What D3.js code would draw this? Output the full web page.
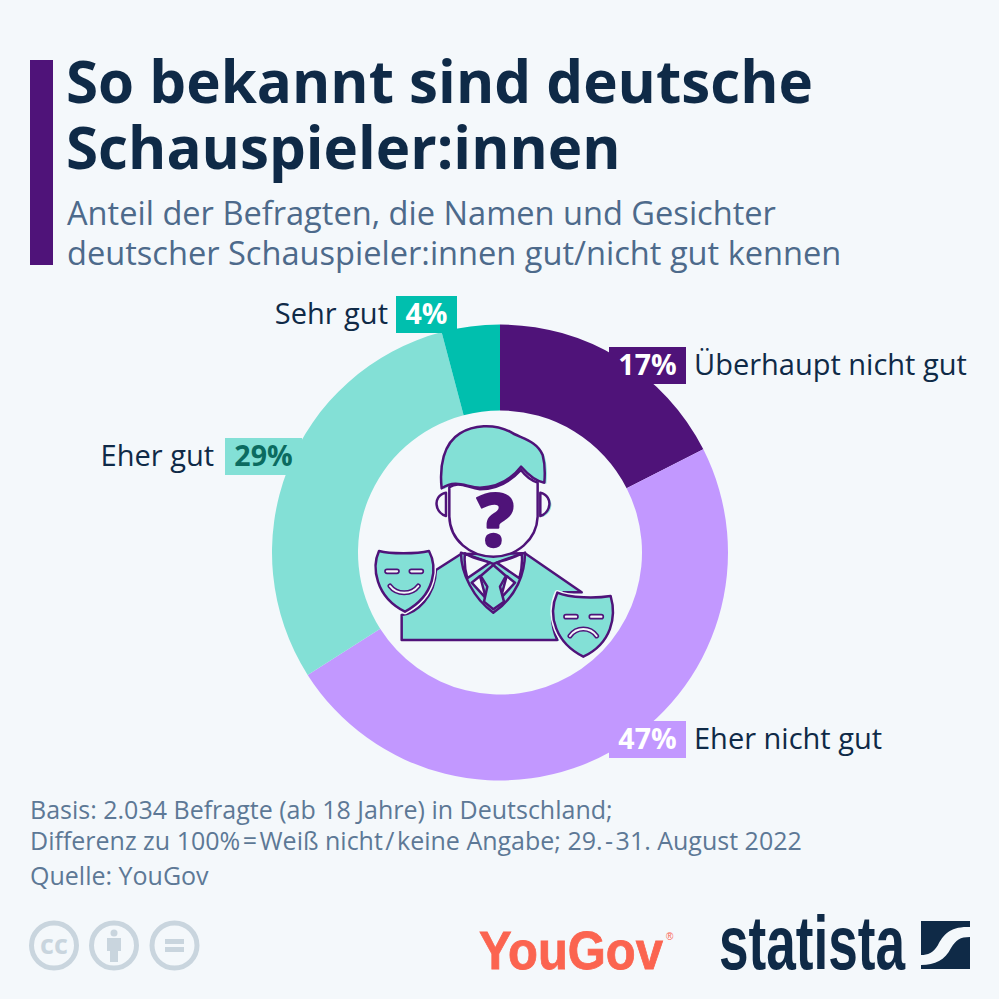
<!DOCTYPE html>
<html>
<head>
<meta charset="utf-8">
<script src="https://cdn.jsdelivr.net/npm/d3@7"></script>
<style>
  html, body { margin: 0; padding: 0; background: #f4f8fb; }
  svg { display: block; font-family: "Open Sans", sans-serif; }
</style>
</head>
<body>
<div id="chart"></div>
<script>
var svgWidth = 999;
var svgHeight = 999;

// Data
var categories = ["Überhaupt nicht gut", "Eher nicht gut", "Eher gut", "Sehr gut"];
var shares = [17, 47, 29, 4];
var sliceColors = ["#4f1379", "#c298ff", "#83e0d6", "#00bfae"];
var valueColors = ["#ffffff", "#ffffff", "#0b6b60", "#ffffff"];

var titleLines = ["So bekannt sind deutsche", "Schauspieler:innen"];
var subtitleLines = ["Anteil der Befragten, die Namen und Gesichter",
  "deutscher Schauspieler:innen gut/nicht gut kennen"];
var noteLines = ["Basis: 2.034 Befragte (ab 18 Jahre) in Deutschland;",
  "Differenz zu 100%\u200A=\u200AWeiß nicht\u200A/\u200Akeine Angabe; 29.\u200A-\u200A31. August 2022",
  "Quelle: YouGov"];

var svg = d3.select("#chart")
  .append("svg")
  .attr("width", svgWidth)
  .attr("height", svgHeight);

svg.append("rect")
  .attr("width", svgWidth)
  .attr("height", svgHeight)
  .attr("fill", "#f4f8fb");

// Header
svg.append("rect")
  .attr("x", 30).attr("y", 60)
  .attr("width", 23).attr("height", 205)
  .attr("fill", "#4f1379");

svg.selectAll(".title")
  .data(titleLines)
  .enter()
  .append("text")
  .attr("class", "title")
  .attr("x", 66)
  .attr("y", (d, i) => 103 + i * 66)
  .attr("font-size", 58.3)
  .attr("font-weight", 700)
  .attr("fill", "#0f2a47")
  .text(d => d);

svg.selectAll(".subtitle")
  .data(subtitleLines)
  .enter()
  .append("text")
  .attr("class", "subtitle")
  .attr("x", 67)
  .attr("y", (d, i) => 225 + i * 40)
  .attr("font-size", 32.6)
  .attr("fill", "#4d6a8b")
  .text(d => d);

// Donut
var pie = d3.pie().sort(null);
var arc = d3.arc().innerRadius(142).outerRadius(228);
var donut = svg.append("g")
  .attr("transform", "translate(500, 552.5)");

donut.selectAll("path")
  .data(pie(shares))
  .enter()
  .append("path")
  .attr("d", arc)
  .attr("fill", (d, i) => sliceColors[i]);

// Label boxes, anchored by hand the way the original sets them
var labelSpots = [
  {box: [609, 347, 77, 37], side: "right", gap: 8},
  {box: [609, 721, 77, 37], side: "right", gap: 8},
  {box: [225, 438, 77, 37], side: "left", gap: 11},
  {box: [396, 296, 61, 37], side: "left", gap: 8}
];

var labels = svg.selectAll(".label")
  .data(categories)
  .enter()
  .append("g")
  .attr("class", "label");

labels.append("rect")
  .attr("x", (d, i) => labelSpots[i].box[0])
  .attr("y", (d, i) => labelSpots[i].box[1])
  .attr("width", (d, i) => labelSpots[i].box[2])
  .attr("height", (d, i) => labelSpots[i].box[3])
  .attr("fill", (d, i) => sliceColors[i]);

labels.append("text")
  .attr("x", (d, i) => labelSpots[i].box[0] + labelSpots[i].box[2] / 2)
  .attr("y", (d, i) => labelSpots[i].box[1] + 28)
  .attr("text-anchor", "middle")
  .attr("font-size", 28.5)
  .attr("font-weight", 700)
  .attr("fill", (d, i) => valueColors[i])
  .text((d, i) => shares[i] + "%");

labels.append("text")
  .attr("x", (d, i) => labelSpots[i].side === "right"
    ? labelSpots[i].box[0] + labelSpots[i].box[2] + labelSpots[i].gap
    : labelSpots[i].box[0] - labelSpots[i].gap)
  .attr("y", (d, i) => labelSpots[i].box[1] + 28)
  .attr("text-anchor", (d, i) => labelSpots[i].side === "right" ? "start" : "end")
  .attr("font-size", 29)
  .attr("fill", "#0f2a47")
  .text(d => d);

// Centre icon, coordinates taken from a 3x crop of the picture
var icon = svg.append("g")
  .attr("transform", "translate(360, 410) scale(0.3333)")
  .attr("stroke-linejoin", "round")
  .attr("stroke-linecap", "round");

var iconTeal = "#83e0d6";
var iconPurple = "#4f1379";
var iconWhite = "#f4f8fb";
var iconStroke = 7.5;

var hair = "M245,235 C238,170 250,100 300,70 C340,45 400,40 450,65 C480,85 530,90 548,135 C556,165 555,195 553,218 C530,215 505,195 483,170 C460,200 420,232 360,233 C320,233 290,205 245,235 Z";
var face = "M268,232 C295,212 320,232 360,238 C420,238 460,205 483,180 C498,200 515,212 533,218 L533,320 C530,390 470,440 400,440 C330,440 270,390 268,320 Z";
var earLeft = "M258,248 C235,252 228,272 230,285 C232,302 245,314 258,318 Z";
var earRight = "M541,248 C562,252 570,272 568,285 C566,302 553,314 541,318 Z";
var body = "M125,615 C170,610 225,560 228,480 L303,432 L495,430 L665,547 L610,547 C575,560 565,630 592,690 L125,690 Z";
var collar = "M303,428 C340,440 370,450 400,462 C430,450 460,440 495,428 C495,490 470,560 400,608 C340,565 303,490 303,428 Z";
var collarWhite = "M315,430 C340,445 365,450 390,458 L322,505 C315,480 312,455 315,430 Z M485,430 C460,445 435,450 410,458 L478,505 C485,480 488,455 485,430 Z";
var collarInner = "M335,518 L360,498 L378,565 Z M465,518 L440,498 L422,565 Z";
var tie = "M400,465 L438,498 L420,530 L432,575 L400,598 L372,575 L382,530 L362,498 Z";
var maskLeft = "M57,423 C90,432 170,432 207,423 C232,470 228,555 135,605 C45,560 35,470 57,423 Z";
var maskRight = "M592,548 C630,565 710,565 752,558 C770,620 755,700 670,740 C590,700 560,620 592,548 Z";

// teal fills sit slightly right of the outlines
[hair, earLeft, earRight, body, maskLeft, maskRight].forEach(function(shape) {
  icon.append("path")
    .attr("d", shape)
    .attr("fill", shape === earLeft ? iconWhite : iconTeal)
    .attr("transform", "translate(6, 3)");
});

function iconPath(shape, fill) {
  icon.append("path")
    .attr("d", shape)
    .attr("fill", fill)
    .attr("stroke", iconPurple)
    .attr("stroke-width", iconStroke);
}

iconPath(body, iconTeal);
iconPath(collar, iconTeal);
iconPath(collarWhite, iconWhite);
iconPath(collarInner, iconWhite);
iconPath(tie, iconTeal);
iconPath(earLeft, iconWhite);
iconPath(earRight, iconWhite);
iconPath(face, iconWhite);
iconPath(hair, iconTeal);

icon.append("path").attr("d", maskLeft).attr("fill", iconTeal).attr("stroke", iconWhite).attr("stroke-width", 16);
iconPath(maskLeft, iconTeal);
icon.append("path").attr("d", maskRight).attr("fill", iconTeal).attr("stroke", iconWhite).attr("stroke-width", 16);
iconPath(maskRight, iconTeal);

// mask faces
var maskEyes = [[75, 478, 42], [148, 478, 42], [612, 614, 42], [688, 614, 42]];
icon.selectAll(".eye")
  .data(maskEyes)
  .enter()
  .append("rect")
  .attr("class", "eye")
  .attr("x", d => d[0]).attr("y", d => d[1])
  .attr("width", d => d[2]).attr("height", 12)
  .attr("rx", 6)
  .attr("fill", iconWhite)
  .attr("stroke", iconPurple)
  .attr("stroke-width", 5);

var mouths = ["M90,528 C110,555 155,555 175,528", "M630,678 C650,650 690,650 710,678"];
mouths.forEach(function(m) {
  icon.append("path")
    .attr("d", m)
    .attr("fill", "none").attr("stroke", iconPurple).attr("stroke-width", 15);
  icon.append("path")
    .attr("d", m)
    .attr("fill", "none").attr("stroke", iconWhite).attr("stroke-width", 6);
});

icon.append("text")
  .attr("x", 406)
  .attr("y", 412)
  .attr("text-anchor", "middle")
  .attr("font-size", 222)
  .attr("font-weight", 800)
  .attr("fill", iconPurple)
  .attr("stroke", iconPurple)
  .attr("stroke-width", 5)
  .text("?");

// Notes
svg.selectAll(".note")
  .data(noteLines)
  .enter()
  .append("text")
  .attr("class", "note")
  .attr("x", 30)
  .attr("y", (d, i) => [819, 850, 885][i])
  .attr("font-size", 25)
  .attr("fill", "#5d7896")
  .text(d => d);

// Licence badges
var badgeX = [54, 114, 174.5];
var badgeColor = "#c9d5de";
var badges = svg.selectAll(".badge")
  .data(badgeX)
  .enter()
  .append("g")
  .attr("class", "badge")
  .attr("transform", d => `translate(${d}, 945.5)`);

badges.append("circle")
  .attr("r", 22.5)
  .attr("fill", "none")
  .attr("stroke", badgeColor)
  .attr("stroke-width", 5);

svg.append("text")
  .attr("x", 54).attr("y", 954)
  .attr("text-anchor", "middle")
  .attr("font-size", 27)
  .attr("font-weight", 700)
  .attr("fill", badgeColor)
  .text("cc");

// person glyph
svg.append("circle").attr("cx", 114).attr("cy", 933).attr("r", 3.5).attr("fill", badgeColor);
svg.append("rect").attr("x", 107).attr("y", 938).attr("width", 14).attr("height", 13).attr("fill", badgeColor);
svg.append("rect").attr("x", 110).attr("y", 950).attr("width", 8).attr("height", 12).attr("fill", badgeColor);

// equals glyph
svg.append("rect").attr("x", 165).attr("y", 939).attr("width", 19).attr("height", 5).attr("fill", badgeColor);
svg.append("rect").attr("x", 165).attr("y", 947).attr("width", 19).attr("height", 5).attr("fill", badgeColor);

// Logos
svg.append("text")
  .attr("x", 479).attr("y", 969)
  .attr("font-family", "Liberation Sans")
  .attr("font-size", 54)
  .attr("font-weight", 700)
  .attr("fill", "#fb6450")
  .attr("stroke", "#fb6450")
  .attr("stroke-width", 0.8)
  .attr("textLength", 184)
  .attr("lengthAdjust", "spacingAndGlyphs")
  .text("YouGov");

svg.append("text")
  .attr("x", 666).attr("y", 940)
  .attr("font-family", "Liberation Sans")
  .attr("font-size", 10)
  .attr("fill", "#fb6450")
  .text("®");

svg.append("text")
  .attr("x", 719).attr("y", 969)
  .attr("font-family", "Liberation Sans")
  .attr("font-size", 76)
  .attr("font-weight", 700)
  .attr("fill", "#0f2a47")
  .attr("textLength", 186)
  .attr("lengthAdjust", "spacingAndGlyphs")
  .text("statista");

svg.append("rect")
  .attr("x", 921).attr("y", 921)
  .attr("width", 49).attr("height", 48)
  .attr("fill", "#0f2a47");

svg.append("path")
  .attr("d", "M970,927 C950,926 943,935 938,945 C933,953 928,955 921,955 L921,965 C935,965 945,960 951,948 C956,940 960,937 970,937 Z")
  .attr("fill", "#f4f8fb");
</script>
</body>
</html>
